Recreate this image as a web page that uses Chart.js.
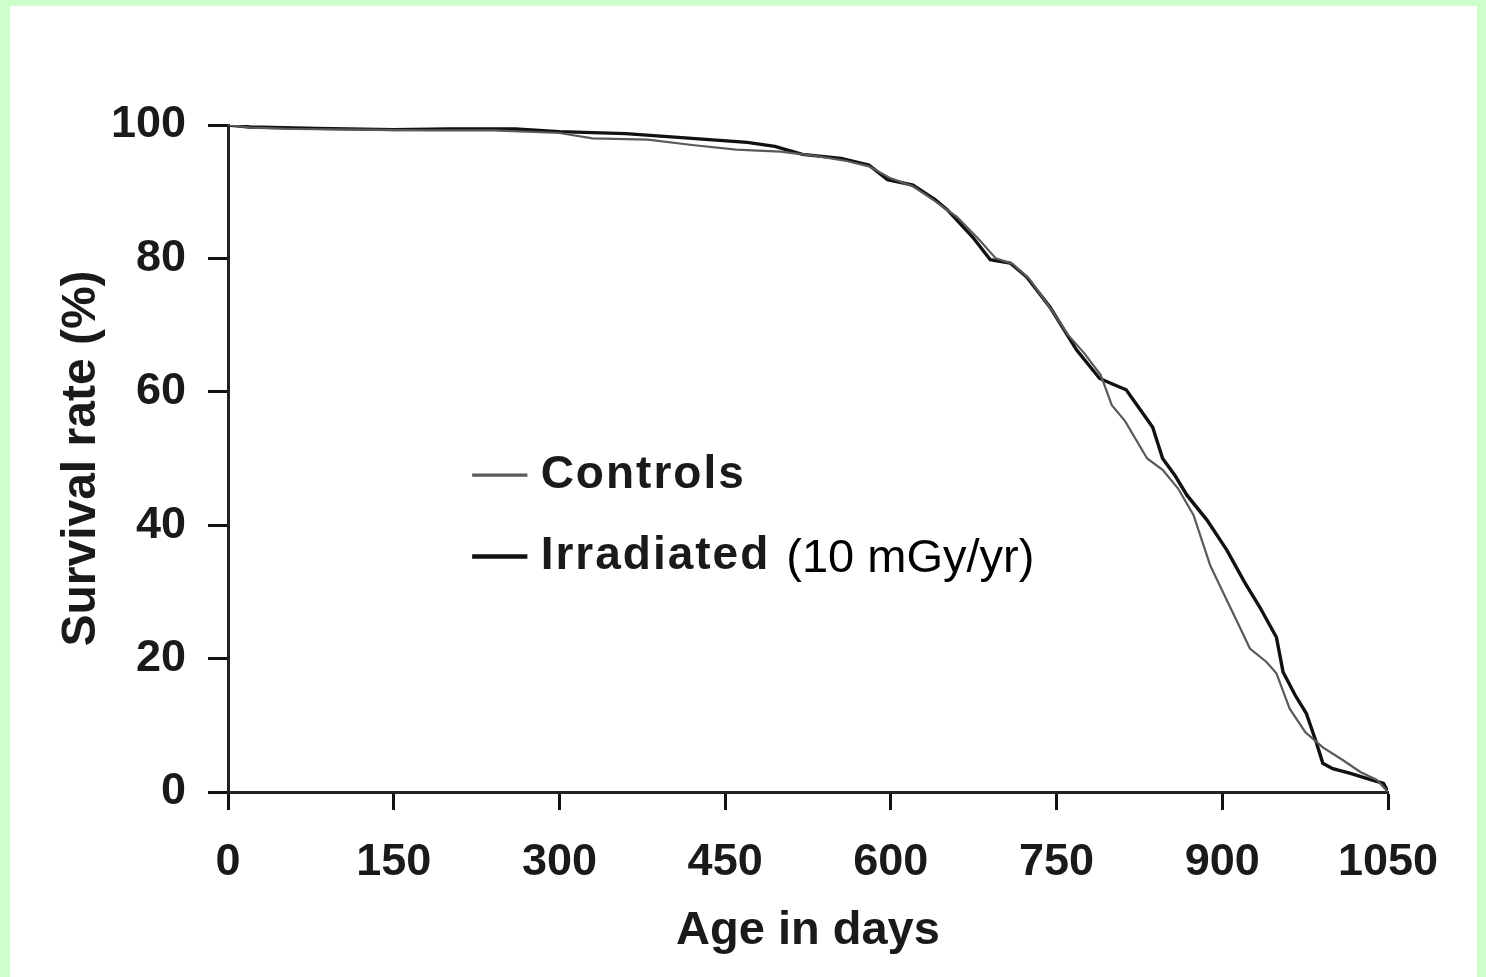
<!DOCTYPE html>
<html><head><meta charset="utf-8">
<script src="https://cdn.jsdelivr.net/npm/chart.js@4.4.1/dist/chart.umd.min.js"></script>
<style>
html,body{margin:0;padding:0;background:#ccffcc;width:1486px;height:977px;overflow:hidden}
#wrap{position:absolute;left:10px;top:6px;width:1467px;height:971px;background:#fff}
canvas{display:block}
</style></head><body>
<div id="wrap"><canvas id="c" width="1467" height="971"></canvas></div>
<script>
const xTicks = [0,150,300,450,600,750,900,1050];
const yTicks = [0,20,40,60,80,100];
const xTitle = "Age in days";
const yTitle = "Survival rate (%)";
const seriesNames = ["Controls", "Irradiated"];
const legendNote = "(10 mGy/yr)";

const controlsDays = [0,20,60,120,180,240,300,330,380,420,460,500,530,560,580,600,620,640,660,680,695,710,725,745,760,775,790,800,812,832,846,860,874,889,904,915,925,940,949,961,975,991,1009,1025,1040,1050];
const controlsRate = [100,99.6,99.4,99.3,99.2,99.2,98.8,98.0,97.8,97.0,96.3,96.0,95.4,94.6,93.8,92.0,90.8,88.6,86.2,82.8,80.0,79.2,77.0,72.4,68.6,65.8,62.5,58.0,55.6,50.0,48.3,45.5,41.5,34.0,28.8,25.0,21.5,19.5,17.8,12.5,9.0,6.7,4.8,3.0,1.8,0];

const irradiatedDays = [0,20,80,150,200,260,300,360,420,470,495,520,555,580,597,620,640,651,674,690,708,723,744,768,789,800,813,825,837,846,857,868,886,904,920,934,949,955,966,976,985,991,1000,1016,1035,1046,1050];
const irradiatedRate = [100,99.7,99.5,99.3,99.4,99.4,99.0,98.7,98.0,97.4,96.8,95.6,95.0,94.0,91.8,91.0,88.8,87.3,83.2,79.8,79.3,77.2,72.7,66.3,62.0,61.2,60.3,57.5,54.7,50.0,47.5,44.5,40.8,36.3,31.5,27.7,23.2,18.0,14.5,11.8,7.5,4.3,3.5,2.8,1.8,1.3,0];

const toPts = (xs, ys) => xs.map((x, i) => ({x: x, y: ys[i]}));
const FONT = "'Liberation Sans', Arial, sans-serif";
const INK = '#1a1a1a';

const legendPlugin = {
  id: 'inlineLegend',
  afterDraw(chart) {
    const ctx = chart.ctx;
    const xs = chart.scales.x, ys = chart.scales.y;
    const ds = chart.data.datasets;
    const rows = [{ds: ds[0], yv: 47.5}, {ds: ds[1], yv: 35.3}];
    const lx0 = xs.getPixelForValue(221), lx1 = xs.getPixelForValue(271), tx = xs.getPixelForValue(283);
    ctx.save();
    rows.forEach((r, i) => {
      const y = ys.getPixelForValue(r.yv);
      ctx.strokeStyle = r.ds.borderColor;
      ctx.lineWidth = r.ds.borderWidth + 1;
      ctx.beginPath(); ctx.moveTo(lx0, y); ctx.lineTo(lx1, y); ctx.stroke();
      ctx.fillStyle = INK;
      ctx.font = "bold 46px " + FONT;
      ctx.letterSpacing = '2px';
      ctx.textBaseline = 'middle';
      ctx.textAlign = 'left';
      ctx.fillText(r.ds.label, tx, y);
      if (i === 1) {
        const w = ctx.measureText(r.ds.label).width;
        ctx.letterSpacing = '0px';
        ctx.font = "47px " + FONT;
        ctx.fillStyle = '#000';
        ctx.fillText(legendNote, tx + w + 16, y + 2);
      }
    });
    ctx.restore();
  }
};

new Chart(document.getElementById('c'), {
  type: 'line',
  data: {
    datasets: [
      {label: seriesNames[0], data: toPts(controlsDays, controlsRate), borderColor: '#5a5a5a', borderWidth: 2.2, pointRadius: 0, tension: 0, fill: false},
      {label: seriesNames[1], data: toPts(irradiatedDays, irradiatedRate), borderColor: '#111111', borderWidth: 3.4, pointRadius: 0, tension: 0, fill: false}
    ]
  },
  options: {
    responsive: false,
    animation: false,
    devicePixelRatio: 1,
    layout: {padding: {top: 119, right: 89, left: 0, bottom: 0}},
    plugins: {legend: {display: false}, tooltip: {enabled: false}, title: {display: false}},
    scales: {
      x: {
        type: 'linear', min: 0, max: 1050,
        afterBuildTicks: s => { s.ticks = xTicks.map(v => ({value: v})); },
        afterFit: s => { s.height = 185; },
        border: {display: true, color: '#222', width: 3},
        grid: {display: true, drawOnChartArea: false, drawTicks: true, tickLength: 18, tickColor: '#111', tickWidth: 3},
        ticks: {color: INK, font: {family: FONT, size: 45, weight: 'bold'}, padding: 26, maxRotation: 0, autoSkip: false, callback: v => String(v)},
        title: {display: true, text: xTitle, color: INK, font: {family: FONT, size: 47, weight: 'bold'}, padding: {top: 0, bottom: 18}}
      },
      y: {
        type: 'linear', min: 0, max: 100,
        afterBuildTicks: s => { s.ticks = yTicks.map(v => ({value: v})); },
        afterFit: s => { s.width = 218; },
        border: {display: true, color: '#222', width: 3},
        grid: {display: true, drawOnChartArea: false, drawTicks: true, tickLength: 20, tickColor: '#111', tickWidth: 3},
        ticks: {color: INK, font: {family: FONT, size: 45, weight: 'bold'}, padding: 22, autoSkip: false, callback: v => String(v)},
        title: {display: true, text: yTitle, color: INK, font: {family: FONT, size: 48, weight: 'bold'}, padding: {top: 43, bottom: 0}}
      }
    }
  },
  plugins: [legendPlugin]
});
</script>
</body></html>
